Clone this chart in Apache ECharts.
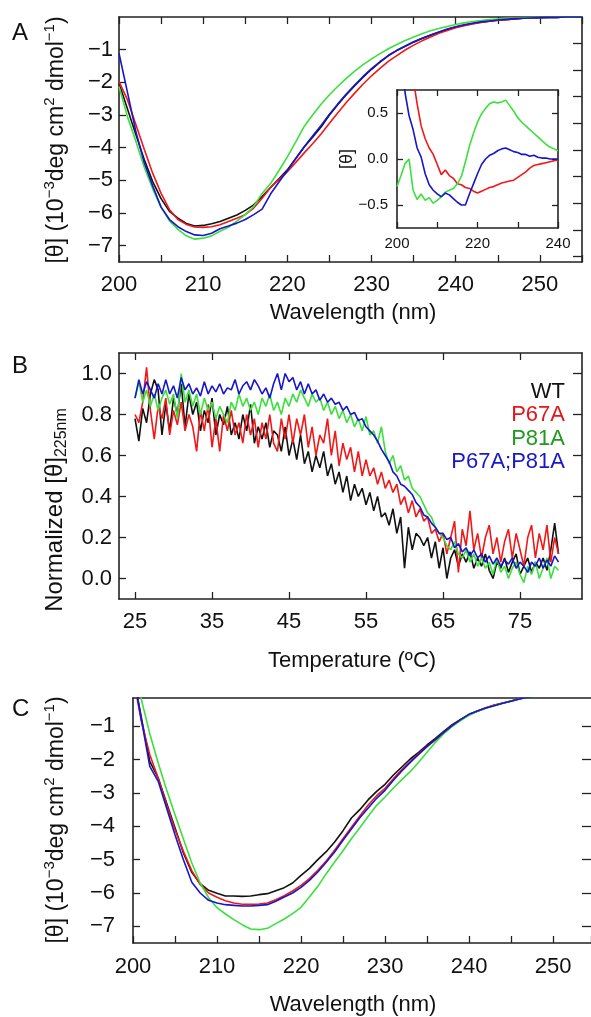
<!DOCTYPE html>
<html>
<head>
<meta charset="utf-8">
<title>CD spectra and thermal denaturation</title>
<script src="https://cdn.jsdelivr.net/npm/echarts@6/dist/echarts.min.js"></script>
<style>
    html, body { margin: 0; padding: 0; background: #fff; }
    #chart { width: 591px; height: 1017px; }
</style>
</head>
<body>
<div id="chart"></div>
<script>
// ---- values ----
var names = ['WT', 'P67A', 'P81A', 'P67A;P81A'];
var lineColors = ['#111111', '#f01818', '#3ce03c', '#1616cc'];
var textColors = ['#111111', '#e8141c', '#1f9a1f', '#1818c8'];

// measurement grids
var waveA = [];
for (var w = 200; w <= 255; w++) waveA.push(w);
var waveInset = [];
for (var w2 = 200; w2 <= 240; w2++) waveInset.push(w2);
var temps = [];
for (var i = 0; i <= 110; i++) temps.push(25 + 0.5 * i);

// tick positions
var thetaTicks = [-7, -6, -5, -4, -3, -2, -1];
var rightTicksA = [0.2, 1.2, 2.2, 3.2, 4.2, 5.2, 6.2, 7.2, 8.2];
var insetTicks = [-0.5, 0, 0.5];
var normTicks = [0, 0.2, 0.4, 0.6, 0.8, 1.0];
var tempTicks = [25, 35, 45, 55, 65, 75];

// panel A: [theta] x 10^-3, 200-255 nm
var aWT = [-2.03, -2.81, -3.6, -4.36, -5.04, -5.56, -5.95, -6.16, -6.32, -6.4, -6.38, -6.33, -6.26, -6.16, -6.06, -5.92, -5.75, -5.5, -5.22, -4.95,
    -4.68, -4.33, -3.98, -3.68, -3.37, -3.0, -2.68, -2.38, -2.1, -1.84, -1.6, -1.38, -1.18, -1.03, -0.9, -0.77, -0.66, -0.56, -0.47, -0.38,
    -0.31, -0.25, -0.2, -0.16, -0.13, -0.1, -0.08, -0.06, -0.04, -0.03, -0.02, -0.01, -0.01, 0, 0, 0];
var aP67A = [-1.98, -2.53, -3.29, -4.05, -4.78, -5.4, -5.9, -6.2, -6.35, -6.43, -6.44, -6.42, -6.36, -6.26, -6.16, -6.05, -5.85, -5.55, -5.22, -4.98,
    -4.74, -4.45, -4.16, -3.88, -3.58, -3.25, -2.93, -2.62, -2.33, -2.05, -1.8, -1.57, -1.36, -1.18, -1.01, -0.86, -0.73, -0.61, -0.5, -0.41,
    -0.33, -0.27, -0.21, -0.17, -0.13, -0.1, -0.08, -0.06, -0.04, -0.03, -0.02, -0.01, -0.01, 0, 0, 0];
var aP81A = [-2.13, -3.05, -3.8, -4.6, -5.26, -5.83, -6.24, -6.5, -6.7, -6.8, -6.77, -6.7, -6.56, -6.44, -6.25, -6.05, -5.8, -5.4, -5.1, -4.7,
    -4.28, -3.82, -3.35, -3.0, -2.67, -2.38, -2.12, -1.88, -1.66, -1.46, -1.28, -1.12, -0.97, -0.84, -0.72, -0.61, -0.51, -0.42, -0.35, -0.29,
    -0.23, -0.18, -0.14, -0.11, -0.08, -0.06, -0.04, -0.03, -0.02, -0.02, -0.01, -0.01, 0, 0, 0, 0];
var aP67AP81A = [-1.11, -2.3, -3.5, -4.46, -5.17, -5.82, -6.2, -6.42, -6.57, -6.67, -6.69, -6.62, -6.48, -6.4, -6.31, -6.2, -6.05, -5.88, -5.42, -5.05,
    -4.7, -4.33, -3.97, -3.64, -3.32, -2.98, -2.66, -2.36, -2.08, -1.82, -1.58, -1.37, -1.18, -1.02, -0.89, -0.76, -0.65, -0.55, -0.46, -0.37,
    -0.3, -0.24, -0.19, -0.15, -0.12, -0.09, -0.07, -0.05, -0.04, -0.03, -0.02, -0.01, -0.01, 0, 0, 0];

// inset: difference spectra, 200-240 nm
var insP67A = [1.8, 1.6, 1.4, 1.12, 0.88, 0.6, 0.36, 0.22, 0.12, 0.05, -0.06, -0.17, -0.12, -0.18, -0.21, -0.27, -0.28, -0.31, -0.32, -0.35,
    -0.37, -0.35, -0.33, -0.31, -0.3, -0.28, -0.26, -0.25, -0.24, -0.23, -0.2, -0.17, -0.14, -0.1, -0.07, -0.06, -0.05, -0.04, -0.03, -0.02, -0.01];
var insP81A = [-0.3, -0.18, -0.05, 0.0, -0.34, -0.44, -0.38, -0.45, -0.42, -0.48, -0.45, -0.41, -0.36, -0.34, -0.32, -0.27, -0.19, -0.03, 0.14, 0.28,
    0.4, 0.49, 0.55, 0.6, 0.62, 0.61, 0.62, 0.64, 0.58, 0.52, 0.45, 0.4, 0.36, 0.32, 0.28, 0.24, 0.2, 0.16, 0.13, 0.11, 0.09];
var insP67AP81A = [1.6, 1.2, 0.72, 0.47, 0.32, 0.12, 0.02, -0.16, -0.28, -0.34, -0.38, -0.41, -0.37, -0.39, -0.43, -0.47, -0.5, -0.5, -0.38, -0.27,
    -0.16, -0.06, 0.0, 0.04, 0.06, 0.09, 0.11, 0.12, 0.1, 0.08, 0.07, 0.05, 0.05, 0.03, 0.04, 0.02, 0.01, 0.01, 0, 0, 0];

// panel B: normalized [theta]225nm, 25-80 C every 0.5 C
var bWT = [0.78, 0.67, 0.83, 0.76, 0.9, 0.97, 0.92, 0.7, 0.85, 0.72,
    0.88, 0.8, 0.95, 0.74, 0.9, 0.8, 0.86, 0.72, 0.82, 0.76,
    0.88, 0.7, 0.8, 0.75, 0.84, 0.7, 0.76, 0.68, 0.8, 0.72,
    0.85, 0.66, 0.74, 0.68, 0.76, 0.64, 0.72, 0.7, 0.62, 0.74,
    0.6, 0.68, 0.58, 0.7, 0.56, 0.62, 0.52, 0.6, 0.54, 0.62,
    0.5, 0.56, 0.46, 0.52, 0.42, 0.5, 0.38, 0.46, 0.4, 0.44,
    0.36, 0.42, 0.33, 0.4, 0.3, 0.32, 0.26, 0.34, 0.22, 0.3,
    0.05, 0.25, 0.14, 0.22, 0.2, 0.16, 0.2, 0.1, 0.18, 0.05,
    0.15, 0.0, 0.1, 0.14, 0.06, 0.12, 0.08, 0.13, 0.05, 0.1,
    0.06, 0.12, 0.04, 0.0, 0.08, 0.05, 0.1, 0.03, 0.08, 0.12,
    0.02, 0.06, 0.1, 0.03, 0.08, 0.05, 0.1, 0.04, 0.14, 0.27,
    0.12];
var bP67A = [0.8, 0.76, 0.86, 1.03, 0.82, 0.68, 0.84, 0.78, 0.88, 0.7,
    0.82, 0.75, 0.86, 0.72, 0.8, 0.74, 0.62, 0.82, 0.72, 0.85,
    0.64, 0.78, 0.62, 0.8, 0.72, 0.82, 0.7, 0.76, 0.66, 0.8,
    0.7, 0.78, 0.64, 0.76, 0.68, 0.8, 0.66, 0.62, 0.78, 0.68,
    0.8, 0.66, 0.78, 0.7, 0.8, 0.64, 0.74, 0.6, 0.7, 0.66,
    0.78, 0.6, 0.72, 0.55, 0.66, 0.58, 0.64, 0.52, 0.62, 0.5,
    0.58, 0.5, 0.54, 0.46, 0.52, 0.44, 0.48, 0.42, 0.46, 0.36,
    0.4, 0.32, 0.38, 0.3, 0.34, 0.28, 0.3, 0.22, 0.24, 0.18,
    0.22, 0.12, 0.2, 0.28, 0.03, 0.24, 0.16, 0.33, 0.14, 0.22,
    0.1, 0.2, 0.26, 0.12, 0.2, 0.08, 0.18, 0.24, 0.1, 0.22,
    0.14, 0.06, 0.2, 0.26, 0.1, 0.22, 0.14, 0.26, 0.08, 0.2,
    0.12];
var bP81A = [0.88, 0.96, 0.86, 0.92, 0.84, 0.9, 0.82, 0.88, 0.92, 0.85,
    0.9, 0.78, 1.0, 0.86, 0.92, 0.84, 0.9, 0.8, 0.88, 0.82,
    0.86, 0.78, 0.84, 0.8, 0.76, 0.86, 0.82, 0.9, 0.84, 0.88,
    0.82, 0.86, 0.8, 0.88, 0.84, 0.9, 0.82, 0.86, 0.8, 0.88,
    0.84, 0.9, 0.86, 0.92, 0.88, 0.84, 0.9, 0.86, 0.88, 0.82,
    0.86, 0.8, 0.84, 0.78, 0.82, 0.76, 0.8, 0.74, 0.78, 0.72,
    0.79, 0.7, 0.72, 0.66, 0.74, 0.62, 0.56, 0.6, 0.52, 0.55,
    0.48, 0.5, 0.44, 0.42, 0.4, 0.36, 0.32, 0.3, 0.25, 0.22,
    0.2, 0.16, 0.14, 0.18, 0.12, 0.1, 0.14, 0.08, 0.12, 0.06,
    0.1, 0.05, 0.08, 0.02, 0.1, 0.03, 0.06, 0.0, 0.05, 0.08,
    0.02, -0.02, 0.06, 0.02, 0.08, 0.0, 0.05, 0.1, 0.0, 0.06,
    0.04];
var bP67AP81A = [0.88, 0.97, 0.9, 0.96, 0.92, 0.88, 0.95, 0.9, 0.97, 0.9,
    0.94, 0.88, 0.98, 0.92, 0.95, 0.9, 0.93, 0.89, 0.96, 0.9,
    0.94, 0.91, 0.95, 0.9, 0.93, 0.92, 0.97, 0.9, 0.94, 0.96,
    0.92, 0.97, 0.94, 0.9, 0.93, 0.88, 0.95, 1.0, 0.92, 1.0,
    0.96, 0.98, 0.92, 0.96, 0.9, 0.95, 0.9, 0.92, 0.87, 0.9,
    0.86, 0.88, 0.85, 0.86, 0.82, 0.84, 0.8, 0.81, 0.77, 0.78,
    0.74, 0.72, 0.7, 0.67, 0.63, 0.6, 0.57, 0.52, 0.5, 0.46,
    0.45, 0.43, 0.41, 0.37, 0.35, 0.31, 0.3, 0.27, 0.25, 0.22,
    0.22, 0.19, 0.2, 0.15, 0.17, 0.13, 0.15, 0.11, 0.14, 0.1,
    0.12, 0.08, 0.11, 0.07, 0.1, 0.06, 0.09, 0.07, 0.1, 0.05,
    0.08, 0.06, 0.03, 0.08, 0.06, 0.1, 0.05, 0.09, 0.06, 0.11,
    0.08];

// panel C: [theta] x 10^-3, 200-255 nm
var cWT = [0.6, -0.75, -2.05, -2.55, -3.3, -4.04, -4.8, -5.38, -5.72, -5.92, -6.01, -6.09, -6.09, -6.1, -6.09, -6.05, -6.02, -5.93, -5.84, -5.7,
    -5.47, -5.26, -5.0, -4.76, -4.47, -4.13, -3.75, -3.5, -3.2, -2.95, -2.74, -2.46, -2.22, -1.98, -1.78, -1.56, -1.36, -1.15, -0.95, -0.79,
    -0.65, -0.55, -0.45, -0.37, -0.31, -0.24, -0.17, -0.12, -0.08, -0.05, -0.03, -0.02, 0, 0, 0, 0];
var cP67A = [0.5, -0.85, -1.85, -2.55, -3.35, -4.1, -4.75, -5.33, -5.75, -6.0, -6.13, -6.23, -6.3, -6.34, -6.34, -6.33, -6.3, -6.2, -6.08, -5.94,
    -5.77, -5.57, -5.32, -5.04, -4.72, -4.37, -4.03, -3.69, -3.36, -3.08, -2.86, -2.57, -2.3, -2.06, -1.82, -1.6, -1.4, -1.18, -0.98, -0.8,
    -0.64, -0.54, -0.44, -0.36, -0.3, -0.24, -0.17, -0.12, -0.08, -0.05, -0.03, -0.02, 0, 0, 0, 0];
var cP81A = [1.0, -0.2, -1.22, -2.1, -2.9, -3.65, -4.38, -5.1, -5.7, -6.14, -6.44, -6.63, -6.8, -6.95, -7.08, -7.1, -7.06, -6.92, -6.78, -6.62,
    -6.43, -6.12, -5.8, -5.42, -5.07, -4.73, -4.37, -4.04, -3.7, -3.37, -3.12, -2.85, -2.6, -2.36, -2.08, -1.78, -1.48, -1.22, -1.0, -0.83,
    -0.67, -0.55, -0.46, -0.38, -0.31, -0.25, -0.18, -0.13, -0.09, -0.06, -0.03, -0.02, 0, 0, 0, 0];
var cP67AP81A = [0.6, -0.8, -2.2, -2.65, -3.45, -4.25, -5.0, -5.68, -6.0, -6.22, -6.3, -6.35, -6.37, -6.39, -6.39, -6.37, -6.35, -6.25, -6.12, -6.0,
    -5.83, -5.62, -5.37, -5.08, -4.77, -4.42, -4.08, -3.74, -3.45, -3.16, -2.92, -2.62, -2.34, -2.08, -1.84, -1.61, -1.4, -1.18, -0.98, -0.8,
    -0.64, -0.54, -0.45, -0.38, -0.31, -0.25, -0.18, -0.13, -0.09, -0.06, -0.03, -0.02, 0, 0, 0, 0];

// ---- chart ----
var FONT = '"Liberation Sans", Arial, Helvetica, sans-serif';
var INK = '#222';
var MINUS = '\u2212';

function pairs(xs, ys) {
    return ys.map(function (y, k) { return [xs[k], y]; });
}
function neg(v) { return v < 0 ? MINUS + Math.abs(v) : String(v); }
function fixed1(v) { return (v < 0 ? MINUS : '') + Math.abs(v).toFixed(1); }

function axis(grid, min, max, pos, tick, label, noLine) {
    var a = {
        type: 'value', gridIndex: grid, min: min, max: max, position: pos,
        axisLine: { show: !noLine, onZero: false, lineStyle: { color: INK, width: 1.6 } },
        axisTick: { show: !!tick, inside: true, length: (tick && tick.len) || 7,
            lineStyle: { color: INK, width: 1.3 } },
        axisLabel: { show: false },
        splitLine: { show: false }
    };
    if (tick && tick.step) a.interval = tick.step;
    if (tick && tick.at) a.axisTick.customValues = tick.at;
    if (label) {
        a.axisLabel = { show: true, interval: 0, color: '#111', fontFamily: FONT,
            fontSize: label.size || 22, margin: label.margin, formatter: label.fmt };
        if (label.at) a.axisLabel.customValues = label.at;
    }
    return a;
}

function line(name, color, xi, yi, data) {
    return {
        name: name, type: 'line', xAxisIndex: xi, yAxisIndex: yi, data: data,
        showSymbol: false, symbol: 'none', animation: false,
        lineStyle: { color: color, width: 1.6 }, itemStyle: { color: color }
    };
}

function label(text, x, y, opts) {
    opts = opts || {};
    return {
        type: 'text', x: x, y: y, rotation: opts.rot || 0,
        style: {
            text: text, fill: opts.fill || '#111', fontFamily: FONT,
            fontSize: opts.size || 22, align: opts.align || 'center',
            verticalAlign: 'middle', lineHeight: opts.lh, rich: opts.rich
        }
    };
}

var supRich = { sup: { fontSize: 15, fontFamily: FONT, fill: '#111', verticalAlign: 'top' } };
var subRich = { sub: { fontSize: 16, fontFamily: FONT, fill: '#111', verticalAlign: 'bottom' } };

var specA = [aWT, aP67A, aP81A, aP67AP81A];
var specInset = [null, insP67A, insP81A, insP67AP81A];
var meltB = [bWT, bP67A, bP81A, bP67AP81A];
var specC = [cWT, cP67A, cP81A, cP67AP81A];

var series = [];
names.forEach(function (n, k) { series.push(line(n, lineColors[k], 0, 0, pairs(waveA, specA[k]))); });
names.forEach(function (n, k) { if (specInset[k]) series.push(line(n, lineColors[k], 2, 2, pairs(waveInset, specInset[k]))); });
names.forEach(function (n, k) { series.push(line(n, lineColors[k], 4, 4, pairs(temps, meltB[k]))); });
names.forEach(function (n, k) { series.push(line(n, lineColors[k], 6, 6, pairs(waveA, specC[k]))); });

var waveFmt = function (v) { return (v % 10 === 0 && v <= 250) ? v : ''; };

var graphics = [
    label('A', 12, 33, { size: 24, align: 'left' }),
    label('B', 12, 366, { size: 24, align: 'left' }),
    label('C', 12, 709, { size: 24, align: 'left' }),
    label('Wavelength (nm)', 353, 313),
    label('Temperature (\u00baC)', 352, 661),
    label('Wavelength (nm)', 353, 1005),
    label('[\u03b8] (10{sup|' + MINUS + '3}deg cm{sup|2} dmol{sup|' + MINUS + '1})', 57, 140,
        { rot: Math.PI / 2, size: 23, lh: 30, rich: supRich }),
    label('Normalized [\u03b8]{sub|225nm}', 55, 510, { rot: Math.PI / 2, size: 24, lh: 30, rich: subRich }),
    label('[\u03b8] (10{sup|' + MINUS + '3}deg cm{sup|2} dmol{sup|' + MINUS + '1})', 57, 820,
        { rot: Math.PI / 2, size: 23, lh: 30, rich: supRich }),
    label('[\u03b8]', 347, 159, { rot: Math.PI / 2, size: 18 })
];
names.forEach(function (n, k) {
    graphics.push(label(n, 565, 392 + k * 23.3, { fill: textColors[k], align: 'right' }));
});

var option = {
    backgroundColor: '#fff',
    animation: false,
    textStyle: { fontFamily: FONT },
    grid: [
        { left: 119, top: 17, width: 463, height: 245, outerBoundsMode: 'none' },
        { left: 397, top: 90, width: 161, height: 138, outerBoundsMode: 'none',
          show: true, backgroundColor: '#fff', borderWidth: 0 },
        { left: 119, top: 353, width: 463, height: 246, outerBoundsMode: 'none' },
        // panel C runs off the right edge of the figure
        { left: 133, top: 698, width: 458, height: 245, outerBoundsMode: 'none' }
    ],
    xAxis: [
        axis(0, 200, 255, 'bottom', { step: 5 }, { fmt: waveFmt, margin: 12 }),
        axis(0, 200, 255, 'top', { step: 5 }, null),
        axis(1, 200, 240, 'bottom', { step: 10, len: 6 },
            { fmt: function (v) { return v % 20 === 0 ? v : ''; }, size: 15, margin: 8 }),
        axis(1, 200, 240, 'top', { step: 10, len: 6 }, null),
        axis(2, 22.92, 83.05, 'bottom', { at: tempTicks }, { at: tempTicks, margin: 12 }),
        axis(2, 22.92, 83.05, 'top', { at: tempTicks }, null),
        axis(3, 200, 254.52, 'bottom', { step: 5 }, { fmt: waveFmt, margin: 13 }),
        axis(3, 200, 254.52, 'top', null, null)
    ],
    yAxis: [
        axis(0, -7.5, 0, 'left', { at: thetaTicks }, { at: thetaTicks, fmt: neg, margin: 6 }),
        axis(0, 0, 9.18, 'right', { at: rightTicksA, len: 9 }, null),
        axis(1, -0.75, 0.75, 'left', { at: insetTicks, len: 6 }, { at: insetTicks, fmt: fixed1, size: 15, margin: 9 }),
        axis(1, -0.75, 0.75, 'right', { at: insetTicks, len: 6 }, null),
        axis(2, -0.1, 1.1, 'left', { at: normTicks }, { at: normTicks, fmt: fixed1, margin: 7 }),
        axis(2, -0.1, 1.1, 'right', { at: normTicks, len: 9 }, null),
        axis(3, -7.5, -0.15, 'left', { at: thetaTicks }, { at: thetaTicks, fmt: neg, margin: 18 }),
        axis(3, -7.5, -0.15, 'right', { at: thetaTicks, len: 9 }, null, true)
    ],
    series: series,
    graphic: graphics
};

var chart = echarts.init(document.getElementById('chart'));
chart.setOption(option);
</script>
</body>
</html>
